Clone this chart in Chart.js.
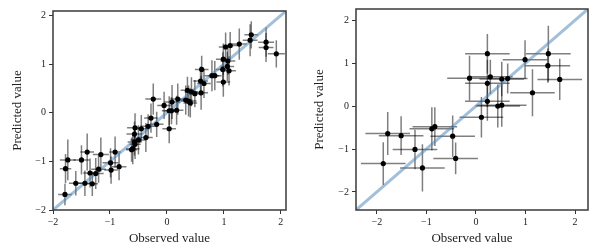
<!DOCTYPE html>
<html>
<head>
<meta charset="utf-8">
<script src="https://cdn.jsdelivr.net/npm/chart.js@4.4.0/dist/chart.umd.min.js"></script>
<style>
  html, body { margin: 0; padding: 0; background: #fff; }
  #wrap { position: relative; width: 600px; height: 250px; }
  .panel { position: absolute; top: 0; width: 300px; height: 250px; }
</style>
</head>
<body>
<div id="wrap">
  <div class="panel" style="left:0"><canvas id="left" width="300" height="250"></canvas></div>
  <div class="panel" style="left:300px"><canvas id="right" width="300" height="250"></canvas></div>
</div>
<script>
// left panel: many samples, small errors
const leftObs = [-1.79, -1.78, -1.74, -1.60, -1.50, -1.44, -1.40, -1.35, -1.31, -1.25, -1.20, -1.16,
  -0.99, -0.98, -0.91, -0.84, -0.62, -0.60, -0.57, -0.56, -0.57, -0.56, -0.50, -0.45, -0.37, -0.33,
  -0.28, -0.24, -0.18, -0.05, 0.04, 0.04, 0.08, 0.09, 0.17, 0.19, 0.33, 0.36, 0.38, 0.41, 0.43, 0.49,
  0.60, 0.59, 0.61, 0.65, 0.79, 0.84, 0.98, 0.99, 0.99, 1.03, 1.06, 1.07, 1.09, 1.11, 1.27, 1.46,
  1.48, 1.74, 1.74, 1.92];
const leftPred = [-1.68, -1.15, -0.97, -1.45, -0.97, -1.45, -0.81, -1.24, -1.46, -1.25, -1.16, -0.86,
  -1.03, -1.18, -0.81, -1.11, -0.76, -0.74, -0.44, -0.31, -0.60, -0.65, -0.56, -0.33, -0.51, -0.28,
  -0.11, 0.28, -0.24, 0.15, -0.33, 0.04, 0.04, 0.22, 0.05, 0.28, 0.26, 0.46, 0.24, 0.20, 0.43, 0.39,
  0.41, 0.65, 0.89, 0.60, 0.76, 0.76, 0.89, 0.63, 1.10, 1.35, 0.95, 1.06, 0.86, 1.38, 1.41, 1.49,
  1.60, 1.45, 1.34, 1.21];
const leftObsErr = [0.12, 0.10, 0.14, 0.12, 0.14, 0.13, 0.12, 0.12, 0.10, 0.14, 0.13, 0.14,
  0.14, 0.12, 0.10, 0.13, 0.10, 0.12, 0.14, 0.14, 0.12, 0.10, 0.14, 0.13, 0.12, 0.14,
  0.12, 0.14, 0.12, 0.12, 0.12, 0.13, 0.12, 0.14, 0.12, 0.13, 0.12, 0.12, 0.14, 0.12, 0.12, 0.13,
  0.12, 0.13, 0.12, 0.12, 0.13, 0.12, 0.12, 0.12, 0.13, 0.12, 0.12, 0.13, 0.12, 0.13, 0.13, 0.13,
  0.12, 0.14, 0.13, 0.15];
const leftPredErr = [0.22, 0.30, 0.42, 0.25, 0.30, 0.26, 0.38, 0.30, 0.25, 0.32, 0.28, 0.35,
  0.30, 0.28, 0.32, 0.28, 0.25, 0.32, 0.26, 0.30, 0.28, 0.30, 0.30, 0.28, 0.30, 0.25,
  0.30, 0.32, 0.26, 0.28, 0.30, 0.30, 0.28, 0.35, 0.30, 0.32, 0.30, 0.28, 0.32, 0.30, 0.30, 0.28,
  0.35, 0.30, 0.28, 0.30, 0.32, 0.30, 0.35, 0.30, 0.32, 0.30, 0.30, 0.28, 0.30, 0.28, 0.32, 0.33,
  0.28, 0.30, 0.30, 0.28];

// right panel: fewer samples, larger errors
const rightObs = [-1.87, -1.78, -1.51, -1.23, -1.08, -0.89, -0.83, -0.47, -0.41, -0.13, 0.11, 0.23,
  0.23, 0.23, 0.29, 0.44, 0.52, 0.52, 0.64, 0.99, 1.14, 1.45, 1.46, 1.69];
const rightPred = [-1.34, -0.64, -0.69, -1.01, -1.44, -0.53, -0.48, -0.70, -1.22, 0.65, -0.26, 1.22,
  0.53, 0.11, 0.68, 0.00, 0.02, 0.63, 0.64, 1.08, 0.31, 0.94, 1.22, 0.62];
const rightObsErr = [0.45, 0.45, 0.45, 0.45, 0.45, 0.45, 0.45, 0.45, 0.45, 0.45, 0.44, 0.45,
  0.45, 0.45, 0.45, 0.45, 0.50, 0.45, 0.40, 0.45, 0.45, 0.45, 0.45, 0.45];
const rightPredErr = [0.50, 0.50, 0.45, 0.46, 0.55, 0.50, 0.45, 0.48, 0.37, 0.52, 0.47, 0.46,
  0.55, 0.45, 0.40, 0.50, 0.50, 0.40, 0.35, 0.45, 0.55, 0.40, 0.65, 0.48];

const axisTicks = [-2, -1, 0, 1, 2];
const leftLim = [-2, 2.09];
const rightLim = [-2.42, 2.26];

Chart.defaults.font.family = '"Liberation Serif", "DejaVu Serif", serif';
Chart.defaults.color = '#222';

const fmt = v => (v < 0 ? '\u2212' + Math.abs(v) : String(v));

// draws x/y error bars under the points
const errorBars = {
  id: 'errorBars',
  beforeDatasetsDraw(chart) {
    const { ctx, chartArea, scales } = chart;
    ctx.save();
    ctx.beginPath();
    ctx.rect(chartArea.left, chartArea.top, chartArea.right - chartArea.left, chartArea.bottom - chartArea.top);
    ctx.clip();
    ctx.strokeStyle = 'rgba(0,0,0,0.5)';
    ctx.lineWidth = 1.5;
    chart.data.datasets.forEach(ds => {
      if (!ds.errX) return;
      ds.data.forEach((p, i) => {
        const x0 = scales.x.getPixelForValue(p.x - ds.errX[i]);
        const x1 = scales.x.getPixelForValue(p.x + ds.errX[i]);
        const y0 = scales.y.getPixelForValue(p.y - ds.errY[i]);
        const y1 = scales.y.getPixelForValue(p.y + ds.errY[i]);
        const px = scales.x.getPixelForValue(p.x);
        const py = scales.y.getPixelForValue(p.y);
        ctx.beginPath();
        ctx.moveTo(x0, py); ctx.lineTo(x1, py);
        ctx.moveTo(px, y0); ctx.lineTo(px, y1);
        ctx.stroke();
      });
    });
    ctx.restore();
  }
};

// box around the plot area
const frame = {
  id: 'frame',
  afterDraw(chart) {
    const { ctx, chartArea } = chart;
    ctx.save();
    ctx.strokeStyle = '#3a3a3a';
    ctx.lineWidth = 1.5;
    ctx.strokeRect(chartArea.left, chartArea.top, chartArea.right - chartArea.left, chartArea.bottom - chartArea.top);
    ctx.restore();
  }
};

function makePanel(id, obs, pred, obsErr, predErr, lim, g) {
  const pts = obs.map((x, i) => ({ x: x, y: pred[i] }));
  const tickSetup = s => { s.ticks = axisTicks.map(v => ({ value: v })); };
  const grid = { display: true, drawOnChartArea: false, drawTicks: true, tickLength: 4, color: '#333', lineWidth: 1 };
  return new Chart(document.getElementById(id), {
    type: 'scatter',
    data: {
      datasets: [
        {
          data: pts,
          errX: obsErr,
          errY: predErr,
          pointRadius: 2.6,
          pointBackgroundColor: '#000',
          pointBorderWidth: 0,
          order: 1
        },
        {
          type: 'line',
          data: [{ x: lim[0], y: lim[0] }, { x: lim[1], y: lim[1] }],
          borderColor: 'rgba(70,130,180,0.5)',
          borderWidth: 3,
          pointRadius: 0,
          order: 2
        }
      ]
    },
    options: {
      responsive: false,
      animation: false,
      layout: { padding: { left: 0, right: g.padRight, top: g.padTop, bottom: 0 } },
      plugins: { legend: { display: false }, tooltip: { enabled: false } },
      scales: {
        x: {
          type: 'linear',
          min: lim[0],
          max: lim[1],
          afterBuildTicks: tickSetup,
          afterFit: s => { s.height = 40; },
          ticks: { callback: fmt, font: { size: 10 }, padding: 2, maxRotation: 0, autoSkip: false },
          grid: grid,
          border: { display: false },
          title: { display: true, text: 'Observed value', font: { size: 13 }, padding: { top: 0, bottom: 4 } }
        },
        y: {
          type: 'linear',
          min: lim[0],
          max: lim[1],
          afterBuildTicks: tickSetup,
          afterFit: s => { s.width = g.yWidth; },
          ticks: { callback: fmt, font: { size: 10 }, padding: 3, autoSkip: false },
          grid: grid,
          border: { display: false },
          title: { display: true, text: 'Predicted value', font: { size: 13 }, padding: { top: g.titlePad, bottom: 0 } }
        }
      }
    },
    plugins: [errorBars, frame]
  });
}

makePanel('left', leftObs, leftPred, leftObsErr, leftPredErr, leftLim, { yWidth: 53, padRight: 14, padTop: 11, titlePad: 10 });
makePanel('right', rightObs, rightPred, rightObsErr, rightPredErr, rightLim, { yWidth: 56, padRight: 12, padTop: 9, titlePad: 12 });
</script>
</body>
</html>
